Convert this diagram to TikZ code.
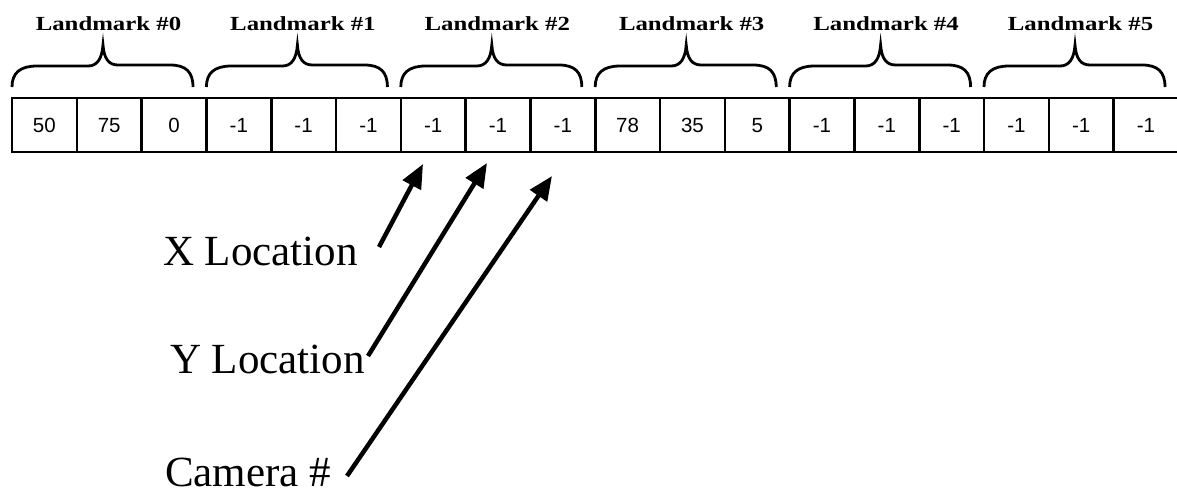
\documentclass[tikz,border=0pt]{standalone}
\usepackage{fontspec}
\setmainfont{Liberation Serif}
\newfontfamily\cellfont{Liberation Sans}
\usetikzlibrary{arrows.meta}
\tikzset{
  cellbox/.style={draw, line width=2.6pt, minimum width=64.8pt, minimum height=54pt,
    inner sep=0pt, outer sep=0pt, text height=14.7pt, text depth=0pt,
    font=\cellfont\fontsize{20.5}{24}\selectfont},
  lmlabel/.style={anchor=base, inner sep=0pt, font=\fontsize{20}{24}\selectfont\bfseries},
  bracepath/.style={line width=2.8pt},
  biglabel/.style={anchor=base west, inner sep=0pt, font=\fontsize{43}{50}\selectfont},
  ptr/.style={line width=4.5pt, -{Triangle[length=24pt,width=20pt]}}
}
\begin{document}
\begin{tikzpicture}[x=1pt,y=-1pt]
\useasboundingbox (0,0) rectangle (1177,493);
\foreach \v [count=\i from 0] in {50,75,0,-1,-1,-1,-1,-1,-1,78,35,5,-1,-1,-1,-1,-1,-1}{
  \node[cellbox] (c\i) at ({12+64.8*(\i+0.5)},125) {\v};
}
\foreach \k in {0,...,5}{
  \node[lmlabel] (l\k) at ({108.5+194.4*\k},30) {\scalebox{1.24}[1]{Landmark \#\k}};
  \pgfmathsetmacro{\xo}{12+194.4*\k}
  \draw[bracepath] (\xo,87) .. controls (\xo,73) and (\xo+8,66) .. (\xo+25,66)
    -- (\xo+76,66) .. controls (\xo+85,66) and (\xo+90,59) .. (\xo+91,45)
    .. controls (\xo+92,59) and (\xo+97,65) .. (\xo+106,65)
    -- (\xo+158,65) .. controls (\xo+174,65) and (\xo+181,72) .. (\xo+181,87);
}
\node[biglabel] (xl) at (163,265) {X Location};
\node[biglabel] (yl) at (170,373) {Y Location};
\node[biglabel] (cl) at (165,486) {Camera \#};
\coordinate (xt) at (379,247);
\coordinate (yt) at (368,356);
\coordinate (ct) at (347,476);
\coordinate (xh) at (423,164);
\coordinate (yh) at (487,163);
\coordinate (ch) at (552,176);
\draw[ptr] (xt) -- (xh);
\draw[ptr] (yt) -- (yh);
\draw[ptr] (ct) -- (ch);
\end{tikzpicture}
\end{document}
